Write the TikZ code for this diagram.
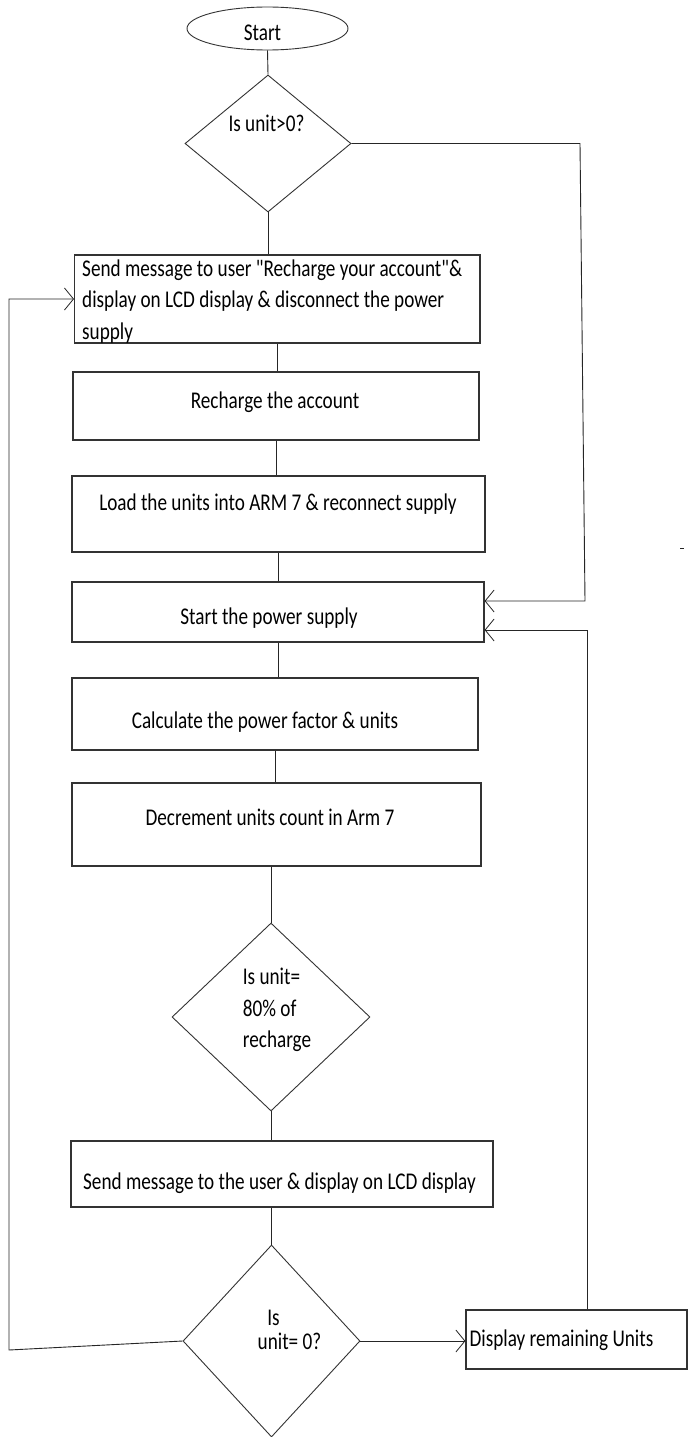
\documentclass[tikz,border=0pt]{standalone}
\usepackage{fontspec}
\setmainfont{Carlito}[FakeStretch=0.8]
\newfontfamily\plainq{Carlito}[FakeStretch=0.8]
\usetikzlibrary{shapes.geometric,arrows.meta,calc}
\newcommand\fsz{\fontsize{24pt}{31.5pt}\selectfont}
\tikzset{
  box/.style={draw=black!80, line width=1.2pt, inner sep=0pt, rectangle},
  dia/.style={draw=black!80, line width=0.9pt, inner sep=0pt, diamond},
  ell/.style={draw=black!80, line width=0.9pt, inner sep=0pt, ellipse},
  lbl/.style={inner sep=0pt, font=\fsz, text=black},
  ln/.style={draw=black!85, line width=0.9pt},
  arr/.style={ln, -{Straight Barb[length=9pt,width=22pt,line width=0.8pt]}},
}
\begin{document}
\begin{tikzpicture}[x=1pt,y=-1pt]
\useasboundingbox (0,0) rectangle (688,1437);
\fill[white] (0,0) rectangle (688,1437);

\node[ell, minimum width=161pt, minimum height=43pt,
  label={[lbl, xshift=-5pt, yshift=-4.5pt]center:Start}] (start) at (267.5,28.5) {};

\node[dia, minimum width=166pt, minimum height=137pt,
  label={[lbl, xshift=-1.5pt, yshift=20.5pt]center:Is unit>0?}] (d1) at (268,143.5) {};

\node[box, minimum width=405.4pt, minimum height=88pt,
  label={[lbl, align=left, anchor=north west, xshift=8pt, yshift=-5pt]north west:{Send message to user {\plainq"}Recharge your account{\plainq"}\&\\display on LCD display \& disconnect the power\\supply}}] (b1) at (277.3,299) {};

\node[box, minimum width=406pt, minimum height=68pt,
  label={[lbl, xshift=-1pt, yshift=4pt]center:Recharge the account}] (b2) at (276,406) {};

\node[box, minimum width=413pt, minimum height=76pt,
  label={[lbl, xshift=-0.5pt, yshift=10pt]center:Load the units into ARM 7 \& reconnect supply}] (b3) at (278.5,514) {};

\node[box, minimum width=412pt, minimum height=60pt,
  label={[lbl, xshift=-9pt, yshift=-6pt]center:Start the power supply}] (b4) at (278,612) {};

\node[box, minimum width=406pt, minimum height=72pt,
  label={[lbl, xshift=-10pt, yshift=-8pt]center:Calculate the power factor \& units}] (b5) at (275,714) {};

\node[box, minimum width=409pt, minimum height=83pt,
  label={[lbl, xshift=-6.5pt, yshift=7.5pt]center:Decrement units count in Arm 7}] (b6) at (276.5,824.5) {};

\node[dia, minimum width=198pt, minimum height=188pt,
  label={[lbl, align=left, xshift=6pt, yshift=7pt]center:{Is unit=\\80\% of\\recharge}}] (d2) at (271,1017) {};

\node[box, minimum width=422pt, minimum height=66pt,
  label={[lbl, xshift=-2.5pt, yshift=-9pt]center:Send message to the user \& display on LCD display}] (b7) at (282,1174) {};

\node[dia, minimum width=177pt, minimum height=192pt,
  label={[lbl, align=center, xshift=18pt, yshift=11pt]center:{Is\hspace*{32pt}\\[-7pt]unit= 0?}}] (d3) at (271.5,1341) {};

\node[box, minimum width=221pt, minimum height=59pt,
  label={[lbl, anchor=west, xshift=4pt, yshift=-0.5pt]west:Display remaining Units}] (b8) at (576.5,1339.5) {};

% main flow
\draw[ln] (start.south) -- (d1.north);
\draw[ln] (d1.south) -- (d1.south |- b1.north);
\draw[ln] (b1.south) -- (b1.south |- b2.north);
\draw[ln] (b2.south) -- (b2.south |- b3.north);
\draw[ln] (b3.south) -- (b3.south |- b4.north);
\draw[ln] (b4.south) -- (b4.south |- b5.north);
\draw[ln] (b5.south) -- (b5.south |- b6.north);
\draw[ln] (d2.north |- b6.south) -- (d2.north);
\draw[ln] (d2.south) -- (d2.south |- b7.north);
\draw[ln] (d3.north |- b7.south) -- (d3.north);
\draw[arr] (d3.east) -- (d3.east -| b8.west);

% left loop
\coordinate (lb) at (9,1350);
\coordinate (lt) at (9,299);
\draw[arr] (d3.west) -- (lb) -- (lt) -- (b1.west);

% right loops
\coordinate (rt) at (580,143.5);
\coordinate (rm) at (585,601);
\draw[arr] (d1.east) -- (rt) -- (rm) -- (rm -| b4.east);
\coordinate (rb) at (587,630);
\draw[arr] (b8.north -| rb) -- (rb) -- (rb -| b4.east);

% stray mark
\coordinate (m1) at (680,548);
\coordinate (m2) at (684,548);
\draw[ln, line width=0.6pt] (m1) -- (m2);
\end{tikzpicture}
\end{document}
